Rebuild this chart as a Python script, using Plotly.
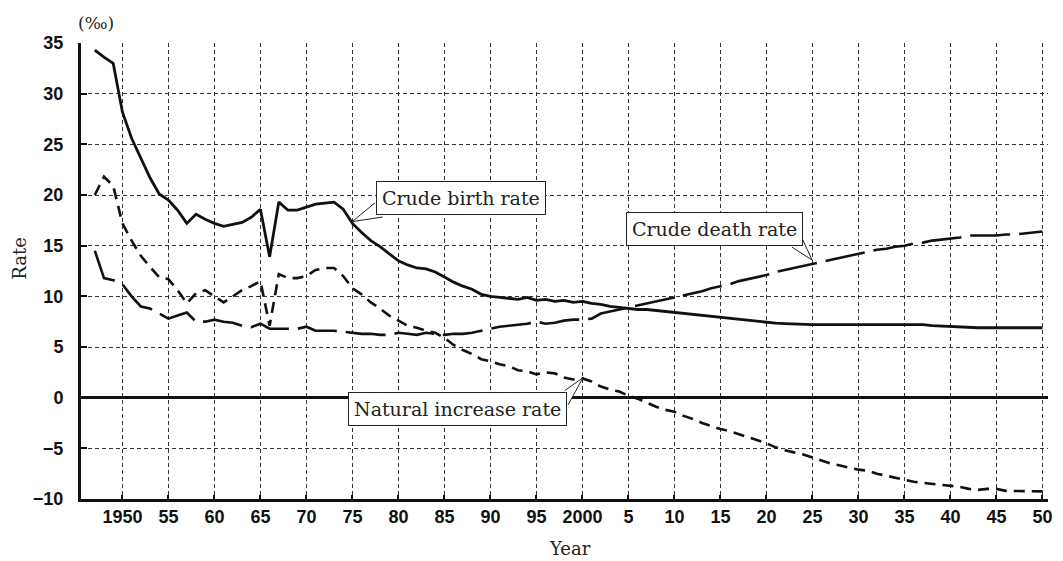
import plotly.graph_objects as go

years = list(range(1947, 2051))

birth_rate = [
    34.3, 33.6, 33.0, 28.2, 25.6, 23.6, 21.7, 20.1, 19.5, 18.5,   # 1947-1956
    17.2, 18.1, 17.6, 17.2, 16.9, 17.1, 17.3, 17.8, 18.6, 13.9,   # 1957-1966
    19.3, 18.5, 18.5, 18.8, 19.1, 19.2, 19.3, 18.6, 17.2, 16.3,   # 1967-1976
    15.5, 14.9, 14.2, 13.5, 13.1, 12.8, 12.7, 12.4, 11.9, 11.4,   # 1977-1986
    11.0, 10.7, 10.2, 10.0, 9.9, 9.8, 9.7, 9.9, 9.6, 9.7,         # 1987-1996
    9.5, 9.6, 9.4, 9.5, 9.3, 9.2, 9.0, 8.9, 8.8, 8.7,             # 1997-2006
    8.7, 8.6, 8.5, 8.4, 8.3, 8.2, 8.1, 8.0, 7.9, 7.8,             # 2007-2016
    7.7, 7.6, 7.5, 7.4, 7.35, 7.3, 7.25, 7.2, 7.2, 7.2,           # 2017-2026
    7.2, 7.2, 7.2, 7.2, 7.2, 7.2, 7.2, 7.2, 7.2, 7.2,             # 2027-2036
    7.2, 7.1, 7.05, 7.0, 7.0, 6.95, 6.9, 6.9, 6.9, 6.9,           # 2037-2046
    6.9, 6.9, 6.9, 6.9,                                           # 2047-2050
]

death_rate = [
    14.5, 11.8, 11.6, 11.2, 10.0, 9.0, 8.8, 8.3, 7.8, 8.1,        # 1947-1956
    8.4, 7.5, 7.5, 7.7, 7.5, 7.4, 7.1, 6.95, 7.3, 6.8,            # 1957-1966
    6.8, 6.8, 6.8, 7.0, 6.6, 6.6, 6.6, 6.5, 6.4, 6.3,             # 1967-1976
    6.3, 6.2, 6.2, 6.4, 6.3, 6.2, 6.4, 6.3, 6.2, 6.3,             # 1977-1986
    6.3, 6.4, 6.6, 6.8, 7.0, 7.1, 7.2, 7.3, 7.5, 7.3,             # 1987-1996
    7.4, 7.6, 7.7, 7.7, 7.8, 8.3, 8.5, 8.7, 8.9, 9.1,             # 1997-2006
    9.3, 9.5, 9.7, 9.9, 10.1, 10.3, 10.5, 10.8, 11.0, 11.2,       # 2007-2016
    11.5, 11.7, 11.9, 12.1, 12.4, 12.6, 12.8, 13.0, 13.2, 13.4,   # 2017-2026
    13.6, 13.8, 14.0, 14.2, 14.4, 14.6, 14.7, 14.9, 15.0, 15.2,   # 2027-2036
    15.3, 15.5, 15.6, 15.7, 15.8, 16.0, 16.0, 16.0, 16.0, 16.1,   # 2037-2046
    16.1, 16.2, 16.3, 16.4,                                       # 2047-2050
]

natural_increase = [
    20.0, 21.8, 20.9, 17.2, 15.5, 14.0, 12.9, 11.9, 11.7, 10.6,   # 1947-1956
    9.3, 10.3, 10.6, 10.0, 9.4, 10.0, 10.6, 11.0, 11.5, 7.1,      # 1957-1966
    12.2, 11.8, 11.8, 12.0, 12.6, 12.8, 12.8, 12.0, 10.8, 10.2,   # 1967-1976
    9.4, 8.8, 8.1, 7.6, 7.1, 6.9, 6.6, 6.4, 5.9, 5.2,             # 1977-1986
    4.7, 4.3, 3.8, 3.6, 3.3, 3.1, 2.7, 2.6, 2.3, 2.5,             # 1987-1996
    2.4, 2.0, 1.8, 1.9, 1.6, 1.1, 0.8, 0.6, 0.2, -0.1,            # 1997-2006
    -0.5, -0.9, -1.2, -1.4, -1.8, -2.1, -2.5, -2.8, -3.1, -3.3,   # 2007-2016
    -3.6, -3.9, -4.2, -4.5, -4.9, -5.2, -5.4, -5.6, -5.9, -6.2,   # 2017-2026
    -6.5, -6.7, -6.9, -7.1, -7.2, -7.5, -7.7, -7.9, -8.1, -8.3,   # 2027-2036
    -8.4, -8.5, -8.6, -8.7, -8.8, -9.0, -9.1, -9.0, -9.0, -9.2,   # 2037-2046
    -9.2, -9.25, -9.25, -9.25,                                    # 2047-2050
]

x_tick_vals = list(range(1950, 2051, 5))
x_tick_text = ["1950", "55", "60", "65", "70", "75", "80", "85", "90", "95",
               "2000", "5", "10", "15", "20", "25", "30", "35", "40", "45", "50"]
y_tick_vals = [35, 30, 25, 20, 15, 10, 5, 0, -5, -10]

label_birth = "Crude birth rate"
label_death = "Crude death rate"
label_natural = "Natural increase rate"

SERIF = "DejaVu Serif"
SANS = "Liberation Sans"

# page body has an 8px default margin: size the figure so the plot lands where intended
OFF = 8
W, H = 1063 - OFF, 561 - OFF
L, R, T, B = 81 - OFF, 11, 43 - OFF, 62
pw, ph = W - L - R, H - T - B


def paper_x(px):
    return (px - OFF - L) / pw


def paper_y(py):
    return 1 - (py - OFF - T) / ph


fig = go.Figure()

fig.add_trace(go.Scatter(
    x=years, y=natural_increase, mode="lines", name=label_natural,
    line=dict(color="#111111", width=2.6, dash="11px,7px"),
))
fig.add_trace(go.Scatter(
    x=years, y=death_rate, mode="lines", name=label_death,
    line=dict(color="#111111", width=2.6, dash="40px,9px"),
))
fig.add_trace(go.Scatter(
    x=years, y=birth_rate, mode="lines", name=label_birth,
    line=dict(color="#111111", width=2.8),
))

# callout boxes (positions in axis units)
callouts = [
    # text, box centre x, box centre y, wedge base1, tip, wedge base2
    (label_birth, 1986.79, 19.70, (1977.43, 19.21), (1974.97, 17.37), (1978.30, 17.83)),
    (label_death, 2014.39, 16.69, (2022.78, 14.85), (2024.95, 13.59), (2023.97, 15.54)),
    (label_natural, 1986.41, -1.07, (1998.07, 0.69), (2000.06, 1.97), (1998.43, -0.72)),
]

shapes = []
annotations = []
for text, cx, cy, b1, tip, b2 in callouts:
    shapes.append(dict(
        type="path", xref="x", yref="y", layer="above",
        path=f"M {b1[0]},{b1[1]} L {tip[0]},{tip[1]} L {b2[0]},{b2[1]}",
        line=dict(color="#222222", width=1), fillcolor="white",
    ))
    annotations.append(dict(
        x=cx, y=cy, xref="x", yref="y", text=text, showarrow=False,
        xanchor="center", yanchor="middle",
        font=dict(family=SERIF, size=19, color="#222222"),
        bgcolor="white", bordercolor="#222222", borderwidth=1, borderpad=5,
    ))

annotations += [
    dict(x=paper_x(96), y=paper_y(23), xref="paper", yref="paper", text="(‰)", showarrow=False,
         font=dict(family=SERIF, size=17, color="#222222"), xanchor="center", yanchor="middle"),
    dict(x=paper_x(18.5), y=paper_y(258), xref="paper", yref="paper", text="Rate", showarrow=False,
         textangle=-90, font=dict(family=SERIF, size=18, color="#222222"),
         xanchor="center", yanchor="middle"),
    dict(x=paper_x(572), y=paper_y(560), xref="paper", yref="paper", text="Year", showarrow=False,
         font=dict(family=SERIF, size=18, color="#222222"), xanchor="center", yanchor="bottom",
         borderpad=0),
]

fig.update_layout(
    width=W, height=H,
    margin=dict(l=L, r=R, t=T, b=B, pad=0),
    paper_bgcolor="white", plot_bgcolor="white",
    showlegend=False,
    shapes=shapes,
    annotations=annotations,
    xaxis=dict(
        range=[1945.5, 2050.6], tickmode="array", tickvals=x_tick_vals, ticktext=x_tick_text,
        showgrid=True, gridcolor="#333333", gridwidth=1, griddash="4px,3px",
        showline=True, linecolor="#111111", linewidth=2.5,
        ticks="inside", ticklen=4, tickwidth=2, tickcolor="#111111",
        tickfont=dict(family=SANS, size=18, color="#111111", weight="bold"),
        ticklabelstandoff=0,
        zeroline=False, fixedrange=True,
    ),
    yaxis=dict(
        range=[-10, 35], tickmode="array", tickvals=y_tick_vals,
        showgrid=True, gridcolor="#333333", gridwidth=1, griddash="4px,3px",
        showline=True, linecolor="#111111", linewidth=3,
        ticks="inside", ticklen=6, tickwidth=2, tickcolor="#111111",
        tickfont=dict(family=SANS, size=18, color="#111111", weight="bold"),
        ticklabelstandoff=11,
        zeroline=True, zerolinecolor="#111111", zerolinewidth=2.5,
        fixedrange=True,
    ),
)

fig.write_html("out.html")
